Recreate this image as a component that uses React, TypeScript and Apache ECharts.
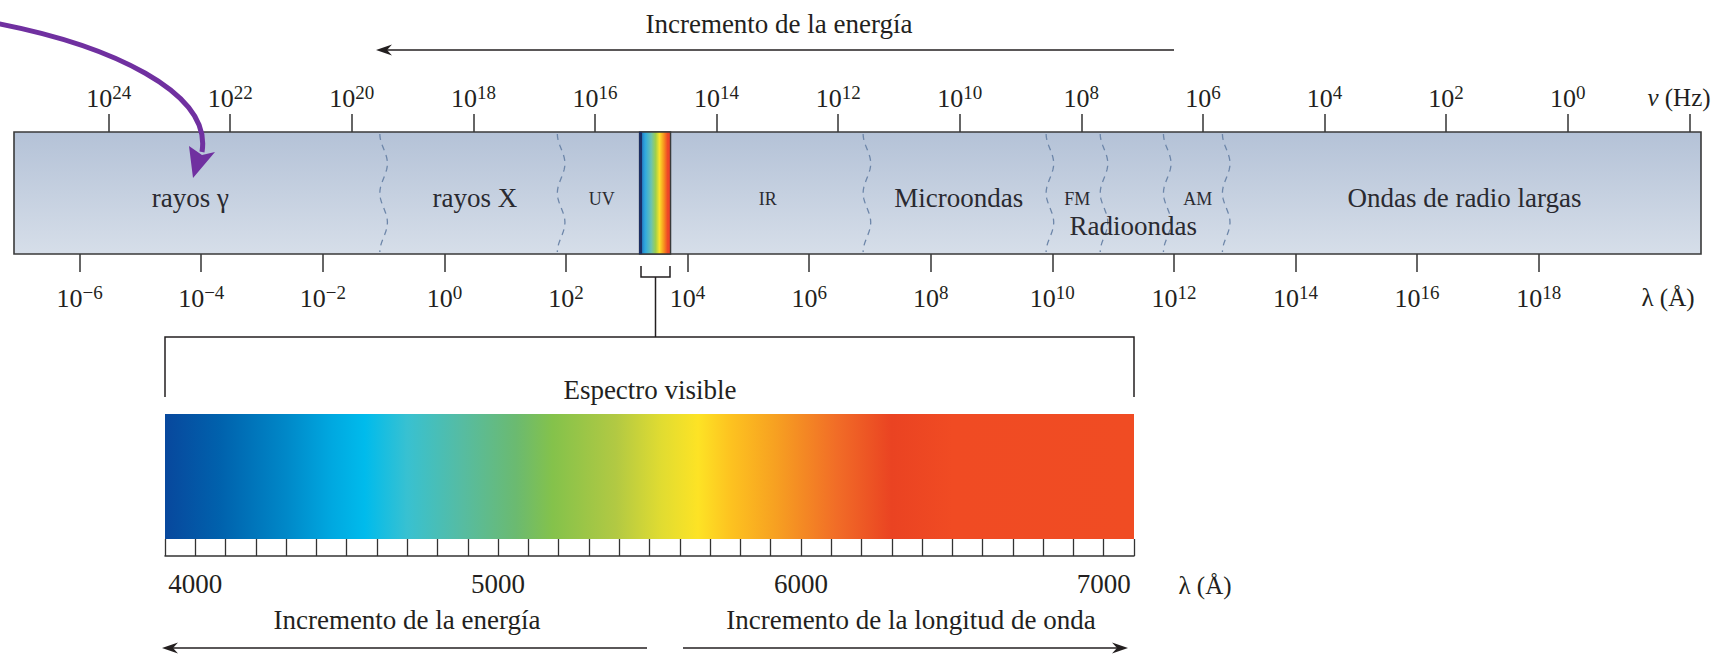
import React, { useEffect, useRef } from 'react';
import * as echarts from 'echarts';

// ---- data -------------------------------------------------------------
// speed of light in Å/s, used to relate ν (Hz) to λ (Å)
const LOG_C_ANGSTROM = Math.log10(2.998e18);

// span of the spectrum band, log10 λ (Å)
const LAMBDA_LOG_MIN = -7.08;
const LAMBDA_LOG_MAX = 20.67;

// frequency ticks (exponents of 10, Hz); the last one carries the unit label
const nuTickExps = [24, 22, 20, 18, 16, 14, 12, 10, 8, 6, 4, 2, 0];
const nuUnitTickExp = -2;

// wavelength ticks (exponents of 10, Å)
const lambdaTickExps = [-6, -4, -2, 0, 2, 4, 6, 8, 10, 12, 14, 16, 18];

// boundaries between regions, log10 λ (Å)
const regionBoundaries = [-1.0, 1.92, 6.95, 9.96, 10.85, 11.89, 12.86];
// visible window inside the band, log10 λ (Å)
const visibleWindow = [3.21, 3.72];

// region names and where they sit along the band, log10 λ (Å)
const regionNames = ['rayos γ', 'rayos X', 'UV', 'IR', 'Microondas', 'FM', 'AM', 'Ondas de radio largas', 'Radioondas'];
const regionCenters = [-4.18, 0.5, 2.59, 5.32, 8.46, 10.41, 12.39, 16.78, 11.33];

// visible spectrum detail, Å
const visibleMin = 3900;
const visibleMax = 7100;
const visibleStep = 100;
const visibleLabels = [4000, 5000, 6000, 7000];
const spectrumStopWavelengths = [3900, 4085, 4300, 4450, 4560, 4700, 4880, 5060, 5180, 5390, 5540, 5660, 5770, 5910, 6120, 6300, 6500, 7100];
const spectrumStopColors = ['#08489d', '#0062ad', '#0088c8', '#00a8e0', '#00bbec', '#38c1d1', '#56bca2', '#6bba70', '#84c24b', '#b2c943', '#e1dc31', '#fde325', '#fdc220', '#f7a221', '#f16c27', '#ea4322', '#f04b23', '#f04c23'];

// ---- styling ----------------------------------------------------------
const FONT = '"Liberation Serif", "Times New Roman", serif';
const INK = '#231f20';
const SMALL_LABELS = ['UV', 'IR', 'FM', 'AM'];

const supText = (v: number) => (v < 0 ? '\u2212' + Math.abs(v) : String(v));

const powerRich = {
  b: { fontSize: 26, fontFamily: FONT, color: INK, lineHeight: 28, verticalAlign: 'bottom' },
  s: { fontSize: 19, fontFamily: FONT, color: INK, lineHeight: 19, verticalAlign: 'top' },
};

function spectrumStops() {
  const span = visibleMax - visibleMin;
  return spectrumStopWavelengths.map((w, i) => ({ offset: (w - visibleMin) / span, color: spectrumStopColors[i] }));
}

function arrowHead(tipX: number, tipY: number, dir: 1 | -1) {
  // dir = -1 points left, 1 points right
  return {
    type: 'polygon',
    shape: {
      points: [
        [tipX, tipY],
        [tipX - dir * 16, tipY - 5.5],
        [tipX - dir * 11, tipY],
        [tipX - dir * 16, tipY + 5.5],
      ],
    },
    style: { fill: INK },
  };
}

function text(str: string, x: number, y: number, size = 27, extra: any = {}) {
  return {
    type: 'text',
    x,
    y,
    style: {
      text: str,
      fontSize: size,
      fontFamily: FONT,
      fill: INK,
      align: 'center',
      verticalAlign: 'middle',
      textAlign: 'center',
      textVerticalAlign: 'middle',
      ...extra,
    },
  };
}

function buildOption() {
  const stops = spectrumStops();
  const labelData = regionNames.map((name, i) => [regionCenters[i], 0, i]);

  return {
    animation: false,
    backgroundColor: '#ffffff',
    grid: [
      { left: 14, top: 132, width: 1687, height: 122 },
      { left: 165, top: 414, width: 969, height: 125 },
    ],
    xAxis: [
      {
        // wavelength scale under the band
        gridIndex: 0,
        type: 'value',
        position: 'bottom',
        min: LAMBDA_LOG_MIN,
        max: LAMBDA_LOG_MAX,
        axisLine: { show: false, onZero: false },
        splitLine: { show: false },
        axisTick: { show: true, customValues: lambdaTickExps, length: 18, lineStyle: { color: '#333', width: 1.5 } },
        axisLabel: {
          customValues: lambdaTickExps,
          margin: 29,
          formatter: (v: number) => `{b|10}{s|${supText(v)}}`,
          rich: powerRich,
        },
      },
      {
        // frequency scale above the band (log10 ν = log10 c − log10 λ)
        gridIndex: 0,
        type: 'value',
        position: 'top',
        inverse: true,
        min: LOG_C_ANGSTROM - LAMBDA_LOG_MAX,
        max: LOG_C_ANGSTROM - LAMBDA_LOG_MIN,
        axisLine: { show: false, onZero: false },
        splitLine: { show: false },
        axisTick: { show: true, customValues: [...nuTickExps, nuUnitTickExp], length: 18, lineStyle: { color: '#333', width: 1.5 } },
        axisLabel: {
          customValues: nuTickExps,
          margin: 21,
          formatter: (v: number) => `{b|10}{s|${supText(v)}}`,
          rich: powerRich,
        },
      },
      {
        // visible spectrum detail
        gridIndex: 1,
        type: 'value',
        min: visibleMin,
        max: visibleMax,
        interval: visibleStep,
        offset: 17,
        axisLine: { show: true, onZero: false, lineStyle: { color: '#333', width: 1.5 } },
        splitLine: { show: false },
        axisTick: { show: true, inside: true, length: 17, lineStyle: { color: '#333', width: 1.3 } },
        axisLabel: {
          customValues: visibleLabels,
          margin: 14,
          fontSize: 27,
          fontFamily: FONT,
          color: INK,
          formatter: (v: number) => String(v),
        },
      },
    ],
    yAxis: [
      { gridIndex: 0, type: 'value', min: 0, max: 1, show: false },
      { gridIndex: 1, type: 'value', min: 0, max: 1, show: false },
    ],
    series: [
      {
        // the band itself
        type: 'custom',
        xAxisIndex: 0,
        yAxisIndex: 0,
        silent: true,
        z: 1,
        data: [[LAMBDA_LOG_MIN, LAMBDA_LOG_MAX]],
        renderItem: (_p: any, api: any) => {
          const a = api.coord([api.value(0), 1]);
          const b = api.coord([api.value(1), 0]);
          return {
            type: 'rect',
            shape: { x: a[0], y: a[1], width: b[0] - a[0], height: b[1] - a[1] },
            style: {
              fill: new echarts.graphic.LinearGradient(0, 0, 0, 1, [
                { offset: 0, color: '#b4c2d7' },
                { offset: 1, color: '#d6dee9' },
              ]),
              stroke: '#3a3a3a',
              lineWidth: 1.6,
            },
          };
        },
      },
      {
        // wavy dashed region boundaries
        type: 'custom',
        xAxisIndex: 0,
        yAxisIndex: 0,
        silent: true,
        z: 2,
        data: regionBoundaries.map((v) => [v, 0]),
        renderItem: (_p: any, api: any) => {
          const top = api.coord([api.value(0), 1]);
          const bottom = api.coord([api.value(0), 0]);
          const pts: number[][] = [];
          const n = 40;
          for (let i = 0; i <= n; i++) {
            const t = i / n;
            pts.push([top[0] - 3.8 * Math.cos(4 * Math.PI * t), top[1] + 2 + t * (bottom[1] - top[1] - 4)]);
          }
          return {
            type: 'polyline',
            shape: { points: pts },
            style: { stroke: '#6d86a9', lineWidth: 1.3, lineDash: [6, 5], fill: null },
          };
        },
      },
      {
        // visible window inside the band
        type: 'custom',
        xAxisIndex: 0,
        yAxisIndex: 0,
        silent: true,
        z: 3,
        data: [visibleWindow],
        renderItem: (_p: any, api: any) => {
          const a = api.coord([api.value(0), 1]);
          const b = api.coord([api.value(1), 0]);
          return {
            type: 'group',
            children: [
              {
                type: 'rect',
                shape: { x: a[0], y: a[1], width: b[0] - a[0], height: b[1] - a[1] },
                style: {
                  fill: new echarts.graphic.LinearGradient(0, 0, 1, 0, [
                    { offset: 0, color: '#1f5fae' },
                    { offset: 0.18, color: '#2fa9e0' },
                    { offset: 0.38, color: '#6cc3b0' },
                    { offset: 0.52, color: '#9fcf4a' },
                    { offset: 0.64, color: '#fbe32a' },
                    { offset: 0.78, color: '#f7951f' },
                    { offset: 0.9, color: '#ef4a26' },
                    { offset: 1, color: '#e8402a' },
                  ]),
                  stroke: '#3a3a3a',
                  lineWidth: 1.4,
                },
              },
              {
                type: 'line',
                shape: { x1: a[0] + 1, y1: a[1], x2: a[0] + 1, y2: b[1] },
                style: { stroke: '#1b2f66', lineWidth: 3 },
              },
            ],
          };
        },
      },
      {
        // region names
        type: 'custom',
        xAxisIndex: 0,
        yAxisIndex: 0,
        silent: true,
        z: 4,
        data: labelData,
        renderItem: (_p: any, api: any) => {
          const idx = api.value(2);
          const name = regionNames[idx];
          const small = SMALL_LABELS.includes(name);
          const level = name === 'Radioondas' ? 0.23 : small ? 0.45 : 0.46;
          const p = api.coord([api.value(0), level]);
          return {
            type: 'text',
            x: p[0],
            y: p[1],
            style: {
              text: name,
              fontSize: small ? 18 : 27,
              fontFamily: FONT,
              fill: '#2a2a30',
              align: 'center',
              verticalAlign: 'middle',
            },
          };
        },
      },
      {
        // visible spectrum detail bar
        type: 'custom',
        xAxisIndex: 2,
        yAxisIndex: 1,
        silent: true,
        z: 1,
        data: [[visibleMin, visibleMax]],
        renderItem: (_p: any, api: any) => {
          const a = api.coord([api.value(0), 1]);
          const b = api.coord([api.value(1), 0]);
          return {
            type: 'rect',
            shape: { x: a[0], y: a[1], width: b[0] - a[0], height: b[1] - a[1] },
            style: { fill: new echarts.graphic.LinearGradient(0, 0, 1, 0, stops) },
          };
        },
      },
    ],
    graphic: [
      // energy arrow above the band
      text('Incremento de la energía', 779, 24),
      { type: 'line', shape: { x1: 1174, y1: 50, x2: 386, y2: 50 }, style: { stroke: INK, lineWidth: 1.5 } },
      arrowHead(376, 50, -1),
      // axis unit labels
      {
        type: 'text',
        x: 1679,
        y: 97,
        style: {
          text: '{i|ν} (Hz)',
          fontSize: 25,
          fontFamily: FONT,
          fill: INK,
          align: 'center',
          verticalAlign: 'middle',
          rich: { i: { fontSize: 25, fontFamily: FONT, fontStyle: 'italic', color: INK } },
        },
      },
      text('λ (Å)', 1668, 297, 25),
      // bracket linking the visible window to the detail bar
      { type: 'polyline', shape: { points: [[641, 266], [641, 277], [670, 277], [670, 266]] }, style: { stroke: INK, lineWidth: 1.5, fill: null } },
      { type: 'line', shape: { x1: 655.5, y1: 277, x2: 655.5, y2: 337 }, style: { stroke: INK, lineWidth: 1.5 } },
      { type: 'polyline', shape: { points: [[165, 397], [165, 337], [1134, 337], [1134, 397]] }, style: { stroke: INK, lineWidth: 1.5, fill: null } },
      text('Espectro visible', 650, 390),
      text('λ (Å)', 1205, 585, 25),
      // arrows under the detail bar
      text('Incremento de la energía', 407, 620),
      { type: 'line', shape: { x1: 647, y1: 648, x2: 172, y2: 648 }, style: { stroke: INK, lineWidth: 1.5 } },
      arrowHead(162, 648, -1),
      text('Incremento de la longitud de onda', 911, 620),
      { type: 'line', shape: { x1: 683, y1: 648, x2: 1118, y2: 648 }, style: { stroke: INK, lineWidth: 1.5 } },
      arrowHead(1128, 648, 1),
      // purple pointer onto the gamma-ray region
      {
        type: 'bezierCurve',
        shape: { x1: -5, y1: 23, cpx1: 110, cpy1: 45, cpx2: 212, cpy2: 92, x2: 202, y2: 152 },
        style: { stroke: '#7030a0', lineWidth: 5, fill: null },
        z: 100,
      },
      {
        type: 'polygon',
        shape: { points: [[193, 178], [215, 152], [202, 155], [189, 146]] },
        style: { fill: '#7030a0' },
        z: 100,
      },
    ],
  };
}

export default function App() {
  const ref = useRef<HTMLDivElement>(null);
  useEffect(() => {
    if (!ref.current) return;
    const chart = echarts.init(ref.current, undefined, { renderer: 'svg' });
    chart.setOption(buildOption() as any);
    return () => chart.dispose();
  }, []);
  return (
    <div
      ref={ref}
      style={{ position: 'fixed', left: 0, top: 0, width: 1732, height: 655, background: '#fff' }}
    />
  );
}
